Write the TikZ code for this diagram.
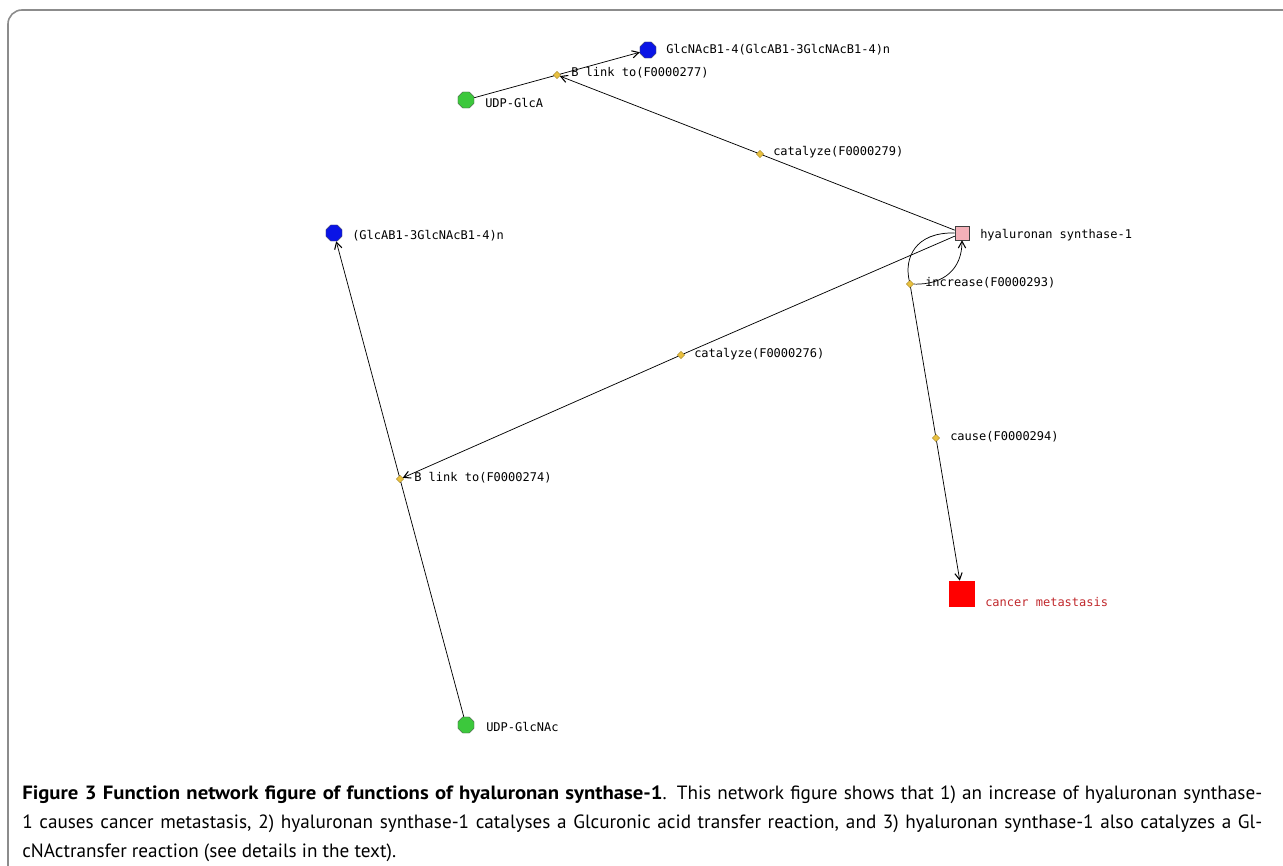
\documentclass[tikz,border=0pt]{standalone}
\usepackage{fontspec}
\setmainfont{PT Sans}[BoldFeatures={FakeStretch=1.08}]
\newfontfamily\monof{DejaVu Sans Mono}
\usetikzlibrary{shapes.geometric,arrows.meta}
\definecolor{dgreen}{HTML}{3CC83C}
\definecolor{dblue}{HTML}{0A14E6}
\definecolor{dpink}{HTML}{F4B0B8}
\definecolor{dyel}{HTML}{E8C040}
\definecolor{dyelb}{HTML}{A08020}
\definecolor{dred}{HTML}{C0282C}
\definecolor{framec}{HTML}{8C8C8C}
\tikzset{
  oct/.style={regular polygon,regular polygon sides=8,inner sep=0pt,minimum size=13pt,draw=black!70,line width=0.3pt},
  greenn/.style={oct,fill=dgreen},
  bluen/.style={oct,fill=dblue},
  dia/.style={diamond,inner sep=0pt,minimum size=5.5pt,fill=dyel,draw=dyelb,line width=0.3pt},
  lbl/.style={anchor=west,inner sep=0pt,font=\monof\fontsize{9}{10}\selectfont},
  conn/.style={draw=black,line width=0.55pt},
  arr/.style={conn,-{Straight Barb[length=5pt,width=5.5pt,line width=0.8pt]}},
  captext/.style={anchor=base west,inner sep=0pt,font=\fontsize{14.4}{18}\selectfont}
}
\begin{document}
\begin{tikzpicture}[x=0.75pt,y=-0.75pt]
\useasboundingbox (0,0) rectangle (1283,866);
\draw[framec,line width=1.2pt] (8,866) -- (8,24) arc[start angle=180,end angle=90,radius=10.5pt] -- (1283,10);

% nodes
\node[bluen] (glcnac) at (648,50) {};
\node[lbl] (glcnacl) at (666,50) {GlcNAcB1-4(GlcAB1-3GlcNAcB1-4)n};
\node[greenn] (udpglca) at (466,100) {};
\node[lbl] (udpglcal) at (485,103) {UDP-GlcA};
\node[dia] (d277) at (557,75) {};
\node[lbl] (d277l) at (571,73) {B link to(F0000277)};
\node[dia] (d279) at (760,154) {};
\node[lbl] (d279l) at (773,152) {catalyze(F0000279)};
\node[rectangle,minimum size=10.5pt,inner sep=0pt,fill=dpink,draw=black!75,line width=0.4pt] (hs) at (962,233) {};
\node[lbl] (hsl) at (980,235) {hyaluronan synthase-1};
\node[bluen] (glca) at (334,233) {};
\node[lbl] (glcal) at (352,236) {(GlcAB1-3GlcNAcB1-4)n};
\node[dia] (d293) at (910,284) {};
\node[lbl] (d293l) at (925,283) {increase(F0000293)};
\node[dia] (d276) at (681,355) {};
\node[lbl] (d276l) at (694,354) {catalyze(F0000276)};
\node[dia] (d274) at (400,479) {};
\node[lbl] (d274l) at (414,478) {B link to(F0000274)};
\node[dia] (d294) at (936,438) {};
\node[lbl] (d294l) at (950,437) {cause(F0000294)};
\node[rectangle,minimum size=19.5pt,inner sep=0pt,fill=red] (cm) at (962,594) {};
\node[lbl,text=dred] (cml) at (985,602) {cancer metastasis};
\node[greenn] (udpglcnac) at (466,725) {};
\node[lbl] (udpglcnacl) at (486,727) {UDP-GlcNAc};

% connectors
\draw[conn] (udpglca) -- (d277);
\draw[arr] (d277) -- (glcnac);
\draw[conn] (hs) -- (d279);
\draw[arr] (d279) -- (d277);
\draw[conn] (hs) -- (d276);
\draw[arr] (d276) -- (d274);
\draw[conn] (udpglcnac) -- (d274);
\draw[arr] (d274) -- (glca);
\draw[conn] (hs.west) .. controls (915,232) and (904,258) .. (d293);
\draw[arr] (d293) .. controls (945,285) and (962,268) .. (hs.south);
\draw[conn] (d293) -- (d294);
\draw[arr] (d294) -- (cm);

% caption
\node[captext] (cap1) at (22,799) {\makebox[930pt][s]{\textbf{Figure 3 Function network figure of functions of hyaluronan synthase-1}. This network figure shows that 1) an increase of hyaluronan synthase-}};
\node[captext] (cap2) at (22,828) {\makebox[930pt][s]{1 causes cancer metastasis, 2) hyaluronan synthase-1 catalyses a Glcuronic acid transfer reaction, and 3) hyaluronan synthase-1 also catalyzes a Gl-}};
\node[captext] (cap3) at (22,857) {cNActransfer reaction (see details in the text).};
\end{tikzpicture}
\end{document}
